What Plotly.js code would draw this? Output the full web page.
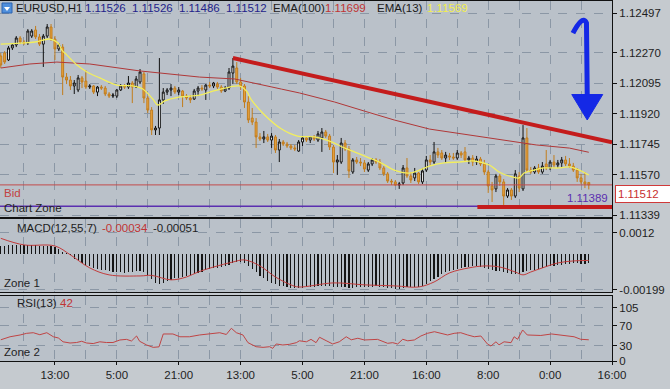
<!DOCTYPE html>
<html>
<head>
<meta charset="utf-8">
<script src="https://cdn.plot.ly/plotly-3.0.1.min.js"></script>
<style>html,body{margin:0;padding:0;background:#c5cacf;}#chart{width:670px;height:389px;}</style>
</head>
<body>
<div id="chart"></div>
<script>
// ---------- data ----------
const openP = [
1.12251,1.12268,1.12228,1.12297,1.12314,1.12354,1.12331,1.12325,1.12365,1.12400,
1.12360,1.12319,1.12365,1.12417,1.12348,1.12291,1.12302,1.12130,1.12113,1.12079,
1.12056,1.12125,1.12107,1.12073,1.12079,1.12044,1.12073,1.12067,1.12033,1.12021,
1.12021,1.12056,1.12079,1.12073,1.12096,1.12073,1.12102,1.12148,1.12010,1.11941,
1.11827,1.11838,1.11999,1.12044,1.12056,1.12067,1.12044,1.12050,1.12021,1.12010,
1.12004,1.12050,1.12067,1.12056,1.12084,1.12079,1.12090,1.12073,1.12050,1.12067,
1.12153,1.12182,1.12102,1.12079,1.11987,1.11895,1.11872,1.11787,1.11775,1.11787,
1.11769,1.11787,1.11712,1.11758,1.11746,1.11735,1.11724,1.11706,1.11758,1.11781,
1.11769,1.11787,1.11769,1.11781,1.11815,1.11792,1.11729,1.11643,1.11643,1.11752,
1.11718,1.11586,1.11655,1.11643,1.11638,1.11597,1.11632,1.11655,1.11643,1.11609,
1.11575,1.11534,1.11529,1.11511,1.11523,1.11609,1.11563,1.11552,1.11580,1.11529,
1.11597,1.11655,1.11643,1.11701,1.11695,1.11666,1.11678,1.11672,1.11666,1.11695,
1.11701,1.11655,1.11666,1.11643,1.11660,1.11632,1.11586,1.11506,1.11489,1.11563,
1.11529,1.11448,1.11483,1.11448,1.11563,1.11489,1.11781,1.11597,1.11586,1.11609,
1.11586,1.11632,1.11609,1.11643,1.11626,1.11638,1.11655,1.11632,1.11620,1.11597,
1.11552,1.11529,1.11526];
const highP = [
1.12268,1.12279,1.12308,1.12325,1.12365,1.12365,1.12342,1.12405,1.12405,1.12423,
1.12377,1.12377,1.12434,1.12434,1.12365,1.12325,1.12319,1.12153,1.12136,1.12113,
1.12142,1.12136,1.12170,1.12090,1.12084,1.12079,1.12084,1.12079,1.12044,1.12039,
1.12062,1.12090,1.12090,1.12136,1.12107,1.12136,1.12176,1.12159,1.12021,1.11958,
1.11850,1.12239,1.12067,1.12067,1.12090,1.12079,1.12073,1.12056,1.12033,1.12027,
1.12062,1.12079,1.12084,1.12090,1.12102,1.12102,1.12102,1.12084,1.12079,1.12182,
1.12239,1.12216,1.12125,1.12090,1.12021,1.11953,1.11895,1.11809,1.11821,1.11804,
1.11809,1.11798,1.11775,1.11769,1.11758,1.11746,1.11741,1.11769,1.11792,1.11792,
1.11792,1.11798,1.11821,1.11838,1.11827,1.11804,1.11741,1.11683,1.11781,1.11769,
1.11735,1.11666,1.11672,1.11666,1.11655,1.11643,1.11666,1.11666,1.11660,1.11620,
1.11586,1.11546,1.11540,1.11529,1.11626,1.11666,1.11586,1.11609,1.11586,1.11609,
1.11678,1.11683,1.11758,1.11724,1.11712,1.11701,1.11695,1.11695,1.11712,1.11706,
1.11729,1.11678,1.11683,1.11678,1.11672,1.11655,1.11597,1.11529,1.11575,1.11575,
1.11546,1.11494,1.11494,1.11597,1.11586,1.11855,1.11838,1.11615,1.11620,1.11632,
1.11643,1.11712,1.11655,1.11683,1.11655,1.11672,1.11678,1.11666,1.11638,1.11609,
1.11575,1.11586,1.11526];
const lowP = [
1.12182,1.12205,1.12222,1.12285,1.12302,1.12319,1.12314,1.12314,1.12354,1.12348,
1.12308,1.12188,1.12354,1.12337,1.12228,1.12279,1.12027,1.12090,1.12056,1.12033,
1.12044,1.12067,1.12062,1.12062,1.12033,1.12021,1.12056,1.12021,1.12010,1.12010,
1.12010,1.12050,1.12062,1.12062,1.11981,1.12067,1.12090,1.11981,1.11924,1.11798,
1.11798,1.11798,1.11976,1.12027,1.12021,1.12033,1.12027,1.11958,1.11999,1.11981,
1.11999,1.12021,1.12050,1.11999,1.12067,1.12067,1.12062,1.12039,1.12044,1.12056,
1.12090,1.12090,1.12056,1.11953,1.11867,1.11855,1.11724,1.11764,1.11752,1.11758,
1.11724,1.11695,1.11643,1.11735,1.11724,1.11712,1.11706,1.11701,1.11735,1.11758,
1.11752,1.11764,1.11758,1.11701,1.11781,1.11712,1.11580,1.11569,1.11632,1.11706,
1.11552,1.11575,1.11632,1.11620,1.11586,1.11586,1.11620,1.11632,1.11597,1.11563,
1.11523,1.11511,1.11506,1.11489,1.11511,1.11552,1.11523,1.11534,1.11517,1.11517,
1.11586,1.11620,1.11632,1.11666,1.11655,1.11638,1.11655,1.11655,1.11655,1.11666,
1.11643,1.11632,1.11620,1.11626,1.11620,1.11569,1.11466,1.11414,1.11471,1.11506,
1.11397,1.11437,1.11426,1.11437,1.11471,1.11477,1.11586,1.11575,1.11575,1.11575,
1.11575,1.11597,1.11597,1.11609,1.11609,1.11615,1.11620,1.11609,1.11586,1.11529,
1.11517,1.11494,1.11486];
const closeP = [
1.12199,1.12216,1.12297,1.12314,1.12354,1.12331,1.12325,1.12394,1.12394,1.12360,
1.12319,1.12365,1.12417,1.12348,1.12291,1.12314,1.12130,1.12113,1.12079,1.12096,
1.12125,1.12102,1.12073,1.12079,1.12044,1.12073,1.12067,1.12033,1.12021,1.12027,
1.12056,1.12079,1.12073,1.12096,1.12073,1.12119,1.12159,1.12010,1.11941,1.11827,
1.11838,1.11999,1.12044,1.12056,1.12067,1.12044,1.12056,1.12021,1.12010,1.11999,
1.12050,1.12067,1.12062,1.12084,1.12079,1.12096,1.12073,1.12050,1.12067,1.12159,
1.12193,1.12102,1.12079,1.11987,1.11884,1.11872,1.11787,1.11775,1.11787,1.11769,
1.11792,1.11712,1.11758,1.11746,1.11735,1.11724,1.11718,1.11758,1.11781,1.11769,
1.11787,1.11775,1.11804,1.11815,1.11792,1.11729,1.11643,1.11655,1.11752,1.11718,
1.11592,1.11655,1.11643,1.11638,1.11603,1.11632,1.11655,1.11643,1.11609,1.11575,
1.11534,1.11529,1.11511,1.11517,1.11609,1.11563,1.11540,1.11580,1.11529,1.11592,
1.11655,1.11643,1.11701,1.11683,1.11666,1.11683,1.11672,1.11666,1.11695,1.11683,
1.11655,1.11666,1.11643,1.11660,1.11632,1.11586,1.11506,1.11483,1.11563,1.11529,
1.11448,1.11483,1.11448,1.11575,1.11494,1.11781,1.11597,1.11586,1.11609,1.11586,
1.11620,1.11609,1.11643,1.11626,1.11638,1.11655,1.11632,1.11620,1.11597,1.11552,
1.11529,1.11517,1.11512];
const barIdx = openP.map((_, i) => i);

const ema13X = [0,5,8.8,12.7,14.8,15.8,17.1,19.7,22.3,25.6,30,34.1,36.7,39.3,40.6,42.4,46.3,51.4,54.8,59.2,61.7,63.5,64.8,68.2,72.6,76.7,81.1,85.5,88.8,91.4,95.3,97.9,101.7,105.6,108.2,110.8,114.6,118.5,122.4,126.3,128.8,131.4,134,135.3,137.9,140.4,144.3,146.9,149.5,152];
const ema13Y = [1.12319,1.12325,1.12331,1.12348,1.12325,1.12285,1.12256,1.12199,1.12159,1.12125,1.12084,1.12079,1.12062,1.12004,1.11970,1.11993,1.12016,1.12027,1.12050,1.12073,1.12079,1.12050,1.11999,1.11913,1.11832,1.11792,1.11787,1.11758,1.11724,1.11701,1.11666,1.11643,1.11597,1.11580,1.11597,1.11620,1.11638,1.11643,1.11649,1.11626,1.11586,1.11563,1.11552,1.11580,1.11597,1.11609,1.11609,1.11615,1.11597,1.11569];
const ema100X = [0,7.5,14.5,23,36,43.7,51.4,60.5,64.3,72.6,77.2,86.3,94,101.7,110.8,121.1,129.6,138.4,147,152];
const ema100Y = [1.12182,1.12205,1.12216,1.12205,1.12165,1.12147,1.12130,1.12119,1.12102,1.12061,1.12039,1.11987,1.11935,1.11884,1.11832,1.11798,1.11769,1.11741,1.11723,1.11699];

const macdHist = [
0.00046,0.00048,0.0005,0.00052,0.00053,0.00052,0.0005,0.00051,0.00052,0.0005,0.00048,0.00047,0.00048,0.00046,0.0004,
0.0003,0.00015,0.00005,-0.00005,
-0.00025,-0.00038,-0.00048,-0.00058,-0.00066,-0.00074,-0.0008,-0.00085,-0.0009,-0.00095,-0.00098,-0.001,
-0.001,-0.00102,-0.001,-0.00098,-0.00096,-0.00094,
-0.001,-0.00115,-0.0014,-0.0016,-0.00166,
-0.00158,-0.0015,-0.00142,-0.00135,-0.0013,-0.00125,-0.0012,-0.00116,
-0.0011,-0.00104,-0.00098,-0.0009,-0.00084,-0.00078,-0.00074,-0.0007,-0.00066,-0.0006,
-0.0005,-0.00045,-0.00042,-0.0005,-0.00065,-0.0008,-0.001,-0.0012,-0.00135,-0.00148,
-0.0016,-0.00168,-0.00175,-0.0018,-0.00184,-0.00186,
-0.00188,-0.00188,-0.00186,-0.00185,-0.00184,-0.00183,-0.0018,-0.00176,-0.00176,-0.00178,
-0.00182,-0.00184,-0.00182,-0.00182,-0.00186,-0.00186,-0.00184,-0.00182,-0.00182,-0.00183,
-0.00182,-0.0018,-0.00182,-0.00184,-0.00188,-0.0019,-0.00192,-0.00192,-0.00188,-0.00184,-0.00183,-0.00183,-0.00182,
-0.00175,-0.00165,-0.00152,-0.00138,-0.00125,-0.00112,-0.001,-0.00092,-0.00086,-0.0008,
-0.00075,-0.00072,-0.0007,-0.00068,-0.00068,-0.0007,-0.00074,-0.0008,-0.00088,-0.00092,
-0.00095,-0.001,-0.00104,-0.00108,-0.0011,-0.00112,-0.001,-0.00095,-0.0009,-0.00085,
-0.0008,-0.00076,-0.00072,-0.00068,-0.00064,-0.0006,-0.00057,-0.00054,-0.00052,-0.0005,
-0.0005,-0.00052,-0.00053,-0.00051];
const macdSigX = [0,6,14,18,23,28,36,39,44,48,51,55,60,63,67,71,75,77,86,94,102,108,112,116,121,125,129,133,135,137,140,144,148,152];
const macdSigY = [0.0009,0.00053,0.00047,-0.00003,-0.00076,-0.00115,-0.00121,-0.00118,-0.00143,-0.00127,-0.00099,-0.00071,-0.00043,-0.00031,-0.00065,-0.00127,-0.00171,-0.00183,-0.0016,-0.00171,-0.00177,-0.00183,-0.00155,-0.00104,-0.00076,-0.00065,-0.00071,-0.00099,-0.00115,-0.00099,-0.00076,-0.00048,-0.00037,-0.00034];

const rsiX = [0,2.4,5,6.7,8.4,10.1,11.9,13.6,14.9,16.1,17.9,19.6,20.9,22.2,23.9,25.6,27.3,29,30.8,32.5,33.8,35.1,35.9,37.7,39.4,40.9,42,44.5,46.3,48.8,51.4,54.9,56.6,58.3,59.6,60.9,62.6,63.9,66,67.8,69.5,70.3,71.2,72.9,74.6,76.4,77.2,79,80.2,81.5,82.4,84.1,85.8,87.5,89.3,90.6,92.3,94,95.7,97.4,100,101.3,102.6,103.9,105.2,106.9,108.6,110.3,112.1,113.8,115.5,117.2,118.9,120.7,122.4,124.1,125.8,126.7,128,128.8,130.1,131.9,132.7,133.6,134.9,136.1,137.9,139.6,142.4,144.8,146.5,148.2,149.9,152];
const rsiY = [42,48,51.5,54.8,56,52,56,48,45.5,38,35.6,36.6,39,35.6,34.5,38,36.6,36.6,41.6,42.8,39.6,49.5,39,31.7,27,28,53.5,53.5,48,48,51.5,54.8,56,52.5,64.7,56,51.5,36.3,28.3,27,28.3,25,33.7,31.7,33,36.3,40,38,42.8,36.3,47,40.3,33.7,38,48,42,45,41.6,41.6,42.8,35,36.3,33.7,43,40,41.6,49.5,54.8,58,54.8,51.5,54.8,56,51.5,48,49.5,33.7,29.7,38,32,38,36.3,48,43,61.4,51.5,51.5,50.5,53.5,51.5,49.5,48,43,42];

const trendX = [60, 158.0];
const trendY = [1.12239, 1.11756];
const supportX = [123.2, 158.0];
const supportY = [1.11386, 1.11386];
const bidPrice = 1.11512;
const zonePrice = 1.11389;

const timeTickIdx = [14,30,46,62,78,94,110,126,142,158];
const timeTickText = ['13:00','5:00','21:00','13:00','5:00','21:00','16:00','8:00','0:00','16:00'];
const priceTicks = [1.12497,1.12270,1.12095,1.11920,1.11745,1.11570,1.11339];
const macdTicks = [0.0012,-0.00199];
const macdTickText = ['0.0012','-0.00199'];
const rsiTicks = [105,70,30,0];

// ---------- drawing ----------
const FONT = 'Liberation Sans, Arial, sans-serif';
const GRID = '#8b97a5';
const PW = 612, PT = 1, PH = 360;
function px(X){ return X / PW; }
function py(Y){ return (PT + PH - Y) / PH; }
function label(X, Y, text, color, extra){
  return Object.assign({xref:'paper', yref:'paper', x:px(X), y:py(Y), xanchor:'left', yanchor:'middle',
    text:text, showarrow:false, font:{family:FONT, size:11.5, color:color}}, extra||{});
}

const traces = [
  {type:'candlestick', x:barIdx, open:openP, high:highP, low:lowP, close:closeP, xaxis:'x2', yaxis:'y',
   increasing:{line:{color:'#111111', width:1}, fillcolor:'#ffffff'},
   decreasing:{line:{color:'#c27d1d', width:1}, fillcolor:'#e9a440'},
   whiskerwidth:0, hoverinfo:'skip'},
  {type:'scatter', mode:'lines', x:ema100X, y:ema100Y, xaxis:'x2', yaxis:'y', line:{color:'#b03838', width:1}, hoverinfo:'skip'},
  {type:'scatter', mode:'lines', x:ema13X, y:ema13Y, xaxis:'x2', yaxis:'y', line:{color:'#f3ef5c', width:1.3, shape:'spline'}, hoverinfo:'skip'},
  {type:'scatter', mode:'lines', x:[-0.2,158], y:[bidPrice,bidPrice], xaxis:'x2', yaxis:'y', line:{color:'#c24a4a', width:1}, hoverinfo:'skip'},
  {type:'scatter', mode:'lines', x:[-0.2,158], y:[zonePrice,zonePrice], xaxis:'x2', yaxis:'y', line:{color:'#5b2fb0', width:1.5}, hoverinfo:'skip'},
  {type:'scatter', mode:'lines', x:trendX, y:trendY, xaxis:'x2', yaxis:'y', line:{color:'#c41c1c', width:4}, hoverinfo:'skip'},
  {type:'scatter', mode:'lines', x:supportX, y:supportY, xaxis:'x2', yaxis:'y', line:{color:'#c41c1c', width:4}, hoverinfo:'skip'},
  {type:'bar', x:barIdx, y:macdHist, xaxis:'x3', yaxis:'y2', width:0.3, marker:{color:'#151515', line:{width:0}}, hoverinfo:'skip'},
  {type:'scatter', mode:'lines', x:macdSigX, y:macdSigY, xaxis:'x3', yaxis:'y2', line:{color:'#c23c3c', width:1, shape:'spline'}, hoverinfo:'skip'},
  {type:'scatter', mode:'lines', x:rsiX, y:rsiY, xaxis:'x', yaxis:'y3', line:{color:'#c04444', width:1}, hoverinfo:'skip'}
];

const xBase = {
  range:[-0.2,158], showline:true, mirror:true, linecolor:'#111111', linewidth:1,
  showgrid:true, gridcolor:GRID, griddash:'dash', gridwidth:1, zeroline:false,
  minor:{tick0:6, dtick:8, showgrid:true, gridcolor:GRID, griddash:'dash', ticks:''},
  tickvals:timeTickIdx, ticktext:timeTickText, rangeslider:{visible:false}, fixedrange:true
};
const yBase = {
  side:'right', showline:true, mirror:true, linecolor:'#111111', linewidth:1,
  showgrid:true, gridcolor:GRID, griddash:'dash', zeroline:false,
  ticks:'outside', ticklen:4, tickcolor:'#111111',
  tickfont:{family:FONT, size:11.5, color:'#1e1e1e'}, fixedrange:true
};

const layout = {
  width:670, height:389,
  margin:{l:0, r:58, t:PT, b:389-PT-PH},
  paper_bgcolor:'#c5cacf', plot_bgcolor:'#bac1c9',
  showlegend:false, bargap:0,
  font:{family:FONT, size:11.5, color:'#1e1e1e'},
  xaxis: Object.assign({}, xBase, {anchor:'y3', ticks:'outside', ticklen:3, tickcolor:'#111111',
     tickfont:{family:FONT, size:11.5, color:'#1e1e1e'}}),
  xaxis2: Object.assign({}, xBase, {anchor:'y', matches:'x', showticklabels:false, ticks:''}),
  xaxis3: Object.assign({}, xBase, {anchor:'y2', matches:'x', showticklabels:false, ticks:''}),
  yaxis: Object.assign({}, yBase, {domain:[0.4,1], range:[1.11328,1.12566], tickvals:priceTicks, ticktext:priceTicks.map(v=>v.toFixed(5))}),
  yaxis2: Object.assign({}, yBase, {domain:[0.1917,0.3958], range:[-0.00211,0.00201], tickvals:macdTicks, ticktext:macdTickText}),
  yaxis3: Object.assign({}, yBase, {domain:[0,0.1806], range:[0,128.7], tickvals:rsiTicks, ticktext:rsiTicks.map(String)}),
  shapes:[
    {type:'rect', xref:'paper', yref:'paper', x0:px(2), x1:px(12), y0:py(13), y1:py(3), fillcolor:'#4f8fdc', line:{color:'#2c62b0', width:1}},
    {type:'path', xref:'paper', yref:'paper', path:'M '+px(4)+','+py(7)+' L '+px(10)+','+py(7)+' L '+px(7)+','+py(11)+' Z', fillcolor:'#ffffff', line:{width:0}},
    {type:'path', xref:'x2', yref:'y', path:'M 147.9,1.12382 C 149.3,1.12440 150.6,1.12478 151.4,1.12440 L 151.6,1.12020',
     line:{color:'#1428e6', width:5}, fillcolor:'rgba(0,0,0,0)'},
    {type:'path', xref:'x2', yref:'y', path:'M 147.6,1.12030 L 155.6,1.12030 L 151.6,1.11884 Z',
     fillcolor:'#1428e6', line:{color:'#1428e6', width:1}}
  ],
  annotations:[
    label(14, 8, 'EURUSD,H1', '#1a1a1a'),
    label(83, 8, '1.11526', '#23238a'),
    label(130, 8, '1.11526', '#23238a'),
    label(177, 8, '1.11486', '#23238a'),
    label(224, 8, '1.11512', '#23238a'),
    label(271, 8, 'EMA(100)', '#1a1a1a'),
    label(323, 8, '1.11699', '#c03434'),
    label(375, 8, 'EMA(13)', '#1a1a1a'),
    label(425, 8, '1.11569', '#f2ef4e'),
    label(2, 193, 'Bid', '#c24242'),
    label(2, 208, 'Chart Zone', '#1e1e1e'),
    label(610, 198, '1.11389', '#5b2fb0', {xanchor:'right'}),
    label(15, 228, 'MACD(12,55,7)', '#1e1e1e'),
    label(100, 228, '-0.00034', '#c03434'),
    label(151, 228, '-0.00051', '#1e1e1e'),
    label(2, 283, 'Zone 1', '#1e1e1e'),
    label(15, 303, 'RSI(13)', '#1e1e1e'),
    label(58, 303, '42', '#c03434'),
    label(2, 352, 'Zone 2', '#1e1e1e'),
    label(615, 193.5, '1.11512', '#c83030', {bgcolor:'#ffffff', bordercolor:'#d03a3a', borderwidth:1, borderpad:2, width:50, align:'left'})
  ]
};

Plotly.newPlot('chart', traces, layout, {displayModeBar:false, staticPlot:true});
</script>
</body>
</html>
